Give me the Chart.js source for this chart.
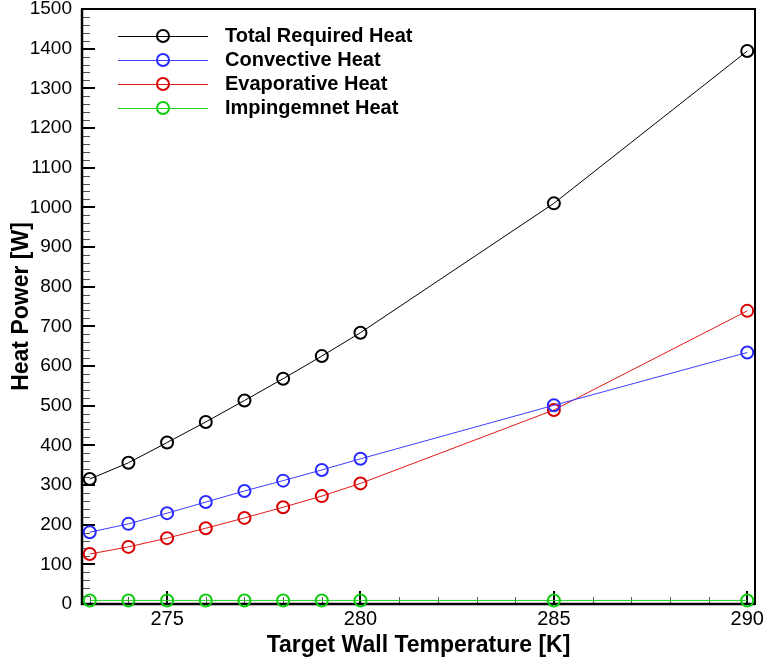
<!DOCTYPE html>
<html>
<head>
<meta charset="utf-8">
<script src="https://cdn.jsdelivr.net/npm/chart.js@4"></script>
<style>
  html, body { margin: 0; padding: 0; background: #fff; }
  #wrap { width: 765px; height: 666px; }
</style>
</head>
<body>
<div id="wrap"><canvas id="heat-chart"></canvas></div>
<script>
// wall temperature in K
const temperatures = [273, 274, 275, 276, 277, 278, 279, 280, 285, 290];
// heat power in W
const totalHeat = [315, 356, 407, 459, 513, 568, 625, 684, 1010, 1394];
const convectiveHeat = [181, 202, 229, 257, 285, 311, 338, 366, 501, 634];
const evaporativeHeat = [126, 144, 166, 191, 217, 244, 272, 304, 489, 739];
const impingementHeat = [9, 9, 9, 9, 9, 9, 9, 9, 9, 9];

const seriesNames = ['Total Required Heat', 'Convective Heat', 'Evaporative Heat', 'Impingemnet Heat'];
const xTickValues = [275, 280, 285, 290];
const yTickValues = [0, 100, 200, 300, 400, 500, 600, 700, 800, 900, 1000, 1100, 1200, 1300, 1400, 1500];

const FONT = '"Liberation Sans", Arial, sans-serif';

const lineColors = ['#000000', '#3c3cff', '#e01818', '#22d022'];
const markColors = ['#000000', '#2a2aff', '#d80000', '#10cc10'];

function makeSet(i, values) {
  return {
    label: seriesNames[i],
    data: temperatures.map((t, k) => ({ x: t, y: values[k] })),
    borderColor: lineColors[i],
    borderWidth: 1,
    pointRadius: 6,
    pointBorderWidth: 2,
    pointBorderColor: markColors[i],
    pointBackgroundColor: 'rgba(0,0,0,0)',
    tension: 0,
    clip: false,
  };
}

// inward tick marks and the black frame round the plot
const framePlugin = {
  id: 'frame',
  beforeDatasetsDraw(chart) {
    const { ctx, chartArea: a, scales } = chart;
    const xs = scales.x, ys = scales.y;
    ctx.save();
    // minor ticks
    ctx.strokeStyle = '#555';
    ctx.lineWidth = 1;
    ctx.beginPath();
    for (let v = 20; v < 1500; v += 20) {
      if (v % 100 === 0) continue;
      const y = Math.round(ys.getPixelForValue(v)) + 0.5;
      ctx.moveTo(a.left, y);
      ctx.lineTo(a.left + 8, y);
    }
    for (let t = 273; t <= 290; t++) {
      if (t % 5 === 0) continue;
      const x = Math.round(xs.getPixelForValue(t)) + 0.5;
      ctx.moveTo(x, a.bottom);
      ctx.lineTo(x, a.bottom - 7);
    }
    ctx.stroke();
    // major ticks
    ctx.strokeStyle = '#000';
    ctx.lineWidth = 2;
    ctx.beginPath();
    yTickValues.forEach(v => {
      const y = Math.round(ys.getPixelForValue(v));
      ctx.moveTo(a.left, y);
      ctx.lineTo(a.left + 13, y);
    });
    xTickValues.forEach(t => {
      const x = Math.round(xs.getPixelForValue(t));
      ctx.moveTo(x, a.bottom);
      ctx.lineTo(x, a.bottom - 13);
    });
    ctx.stroke();
    // frame
    ctx.lineWidth = 2;
    ctx.strokeRect(a.left, a.top, a.right - a.left, a.bottom - a.top);
    ctx.lineWidth = 2.5;
    ctx.beginPath();
    ctx.moveTo(a.left, a.top);
    ctx.lineTo(a.left, a.bottom);
    ctx.lineTo(a.right, a.bottom);
    ctx.stroke();
    ctx.restore();
  },
};

// legend drawn inside the plot: line + hollow circle + bold label
const insideLegend = {
  id: 'insideLegend',
  afterDatasetsDraw(chart) {
    const { ctx } = chart;
    ctx.save();
    chart.data.datasets.forEach((ds, i) => {
      const y = 36 + i * 24;
      ctx.strokeStyle = ds.borderColor;
      ctx.lineWidth = 1;
      ctx.beginPath();
      ctx.moveTo(118, y + 0.5);
      ctx.lineTo(208, y + 0.5);
      ctx.stroke();
      ctx.strokeStyle = ds.pointBorderColor;
      ctx.lineWidth = 2;
      ctx.beginPath();
      ctx.arc(163, y, 6, 0, Math.PI * 2);
      ctx.stroke();
      ctx.fillStyle = '#000';
      ctx.font = 'bold 20px ' + FONT;
      ctx.textBaseline = 'middle';
      ctx.textAlign = 'left';
      ctx.fillText(ds.label, 225, y);
    });
    ctx.restore();
  },
};

const ctxHeat = document.getElementById('heat-chart').getContext('2d');
const heatChart = new Chart(ctxHeat, {
  type: 'line',
  data: {
    datasets: [
      makeSet(0, totalHeat),
      makeSet(1, convectiveHeat),
      makeSet(2, evaporativeHeat),
      makeSet(3, impingementHeat),
    ],
  },
  options: {
    responsive: true,
    maintainAspectRatio: false,
    animation: false,
    layout: { padding: { top: 9, right: 10, left: 0, bottom: 0 } },
    plugins: {
      legend: { display: false },
      tooltip: { enabled: false },
    },
    scales: {
      x: {
        type: 'linear',
        min: 272.8,
        max: 290.2,
        grid: { display: false, drawTicks: false },
        border: { display: false },
        afterBuildTicks: (s) => { s.ticks = xTickValues.map(v => ({ value: v })); },
        afterFit: (s) => { s.height = 62; s.paddingLeft = 0; s.paddingRight = 0; },
        ticks: {
          color: '#000',
          padding: 3,
          maxRotation: 0,
          callback: (v) => String(v),
          font: { family: FONT, size: 20 },
        },
        title: {
          display: true,
          text: 'Target Wall Temperature [K]',
          color: '#000',
          padding: { bottom: 7, top: 0 },
          font: { family: FONT, size: 23, weight: 'bold' },
        },
      },
      y: {
        type: 'linear',
        min: 0,
        max: 1500,
        grid: { display: false, drawTicks: false },
        border: { display: false },
        afterBuildTicks: (s) => { s.ticks = yTickValues.map(v => ({ value: v })); },
        afterFit: (s) => { s.width = 82; s.paddingTop = 0; s.paddingBottom = 0; },
        ticks: {
          color: '#000',
          padding: 10,
          callback: (v) => String(v),
          font: { family: FONT, size: 19 },
        },
        title: {
          display: true,
          text: 'Heat Power [W]',
          color: '#000',
          padding: { top: 8, bottom: 0 },
          font: { family: FONT, size: 23, weight: 'bold' },
        },
      },
    },
  },
  plugins: [framePlugin, insideLegend],
});
</script>
</body>
</html>
